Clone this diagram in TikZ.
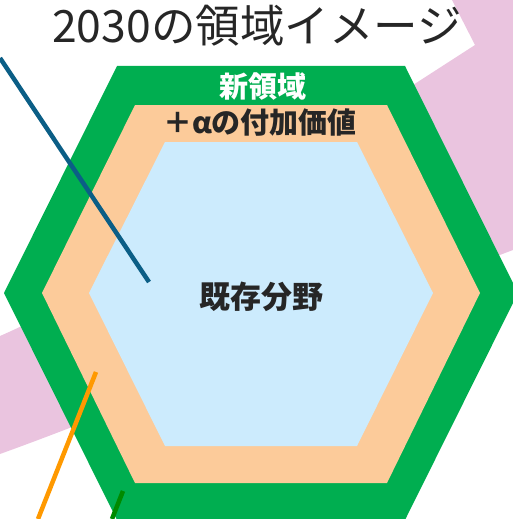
\documentclass[tikz,border=0pt]{standalone}
\usepackage{fontspec}
\newfontfamily\cjk{Noto Sans CJK JP}
\definecolor{pinkband}{HTML}{EAC4DF}
\definecolor{hexgreen}{HTML}{00AE50}
\definecolor{hexpeach}{HTML}{FCCB9A}
\definecolor{hexblue}{HTML}{CCEBFD}
\definecolor{darktext}{HTML}{262626}
\definecolor{lineblue}{HTML}{0B5E86}
\definecolor{lineorange}{HTML}{FF9900}
\definecolor{linegreen}{HTML}{008A00}
\begin{document}
\begin{tikzpicture}[x=1pt,y=-1pt,
  lbl/.style={inner sep=0pt,anchor=center,font=\cjk\bfseries},
  leader/.style={line width=4.5pt}]
\useasboundingbox (0,0) rectangle (513,519);
% pink band
\fill[pinkband] (452,0) -- (513,0) -- (513,250) .. controls (380,300) and (150,400) .. (0,454)
  -- (0,336) .. controls (150,270) and (300,150) .. (413,85) -- (475,45) -- cycle;
% hexagons
\fill[hexgreen] (117,66) -- (405,66) -- (518,293) -- (405,520) -- (117,520) -- (4,293) -- cycle;
\fill[hexpeach] (135,105) -- (387,105) -- (480,293) -- (387,483) -- (135,483) -- (42,293) -- cycle;
\fill[hexblue] (165,142) -- (357,142) -- (433,293) -- (357,446) -- (165,446) -- (89,293) -- cycle;
% texts
\node[inner sep=0pt,font=\cjk\fontsize{44.5}{50}\selectfont,text=darktext] (title) at (257,26) {2030の領域イメージ};
\node[lbl,text=white,font=\cjk\bfseries\fontsize{29}{32}\selectfont] (newarea) at (263,87) {新領域};
\node[lbl,text=darktext,font=\cjk\bfseries\fontsize{29}{32}\selectfont] (added) at (260,123) {＋αの付加価値};
\node[lbl,text=darktext,font=\cjk\bfseries\fontsize{31}{34}\selectfont] (existing) at (261,297) {既存分野};
% leader lines
\coordinate (b1) at (0,58); \coordinate (b2) at (149,282);
\coordinate (o1) at (96,372); \coordinate (o2) at (38,519);
\coordinate (g1) at (123,491); \coordinate (g2) at (112,519);
\draw[leader,lineblue] (b1) -- (b2);
\draw[leader,lineorange] (o1) -- (o2);
\draw[leader,linegreen] (g1) -- (g2);
\end{tikzpicture}
\end{document}
